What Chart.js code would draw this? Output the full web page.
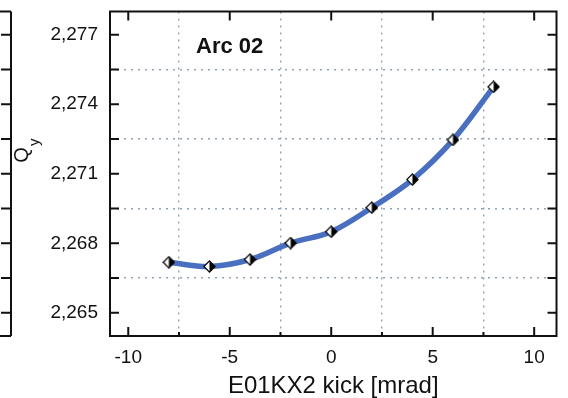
<!DOCTYPE html>
<html>
<head>
<meta charset="utf-8">
<script src="https://cdn.jsdelivr.net/npm/chart.js@4/dist/chart.umd.min.js"></script>
<style>
  html, body { margin: 0; padding: 0; background: #ffffff; }
  #wrap { width: 568px; height: 398px; position: relative; }
</style>
</head>
<body>
<div id="wrap"><canvas id="c" width="568" height="398"></canvas></div>
<script>
// ---- data ----
const kicks = [-8, -6, -4, -2, 0, 2, 4, 6, 8];
const qy = [2.26718, 2.26700, 2.26730, 2.26801, 2.26850, 2.26954, 2.27075, 2.27246, 2.27475];

const xTickValues = [-10, -5, 0, 5, 10];
const xGridValues = [-7.5, -2.5, 2.5, 7.5];
const yTickValues = [2.265, 2.268, 2.271, 2.274, 2.277];
const yGridValues = [2.2665, 2.2695, 2.2725, 2.2755];

const panelLabel = 'Arc 02';
const xTitle = 'E01KX2 kick [mrad]';
const yTitleMain = 'Q';
const yTitleSub = 'y';

// ---- marker: diamond, left half white, right half black ----
function makeMarker() {
  const s = 13, h = s / 2, r = 5.6;
  const c = document.createElement('canvas');
  c.width = s; c.height = s;
  const g = c.getContext('2d');
  const path = () => { g.beginPath(); g.moveTo(h, h - r); g.lineTo(h + r, h); g.lineTo(h, h + r); g.lineTo(h - r, h); g.closePath(); };
  path(); g.fillStyle = '#ffffff'; g.fill();
  g.beginPath(); g.moveTo(h, h - r); g.lineTo(h + r, h); g.lineTo(h, h + r); g.closePath();
  g.fillStyle = '#000000'; g.fill();
  path(); g.strokeStyle = '#000000'; g.lineWidth = 1.2; g.stroke();
  return c;
}

const gridColor = '#93a3b2';
const xGridSet = new Set(xGridValues);
const yGridSet = new Set(yGridValues);

const framePlugin = {
  id: 'frame',
  afterDraw(chart) {
    const {ctx, chartArea: a, scales: {x, y}} = chart;
    ctx.save();
    ctx.strokeStyle = '#111111';
    ctx.lineWidth = 2;
    ctx.strokeRect(a.left, a.top, a.right - a.left, a.bottom - a.top);
    ctx.beginPath();
    [...yTickValues, ...yGridValues].forEach(v => {
      const py = y.getPixelForValue(v);
      ctx.moveTo(a.left, py); ctx.lineTo(a.left + 9, py);
      ctx.moveTo(a.right, py); ctx.lineTo(a.right - 9, py);
    });
    xTickValues.forEach(v => {
      const px = x.getPixelForValue(v);
      ctx.moveTo(px, a.bottom); ctx.lineTo(px, a.bottom - 9);
      ctx.moveTo(px, a.top); ctx.lineTo(px, a.top + 9);
    });
    xGridValues.forEach(v => {
      const px = x.getPixelForValue(v);
      ctx.moveTo(px, a.bottom); ctx.lineTo(px, a.bottom - 4);
    });
    ctx.stroke();

    // neighbouring panel edge at the far left
    const ex = 11;
    ctx.beginPath();
    ctx.moveTo(ex, a.top); ctx.lineTo(ex, a.bottom);
    ctx.moveTo(0, a.top); ctx.lineTo(ex, a.top);
    ctx.moveTo(0, a.bottom); ctx.lineTo(ex, a.bottom);
    [...yTickValues, ...yGridValues].forEach(v => {
      const py = y.getPixelForValue(v);
      ctx.moveTo(ex, py); ctx.lineTo(ex - 10, py);
    });
    ctx.stroke();

    // panel label
    ctx.fillStyle = '#111111';
    ctx.font = 'bold 22px "Liberation Sans", Arial, sans-serif';
    ctx.textAlign = 'left';
    ctx.textBaseline = 'middle';
    ctx.fillText(panelLabel, a.left + 86, a.top + 35);

    // y title: Q with subscript y, rotated
    ctx.translate(21, 155);
    ctx.rotate(-Math.PI / 2);
    ctx.textBaseline = 'alphabetic';
    ctx.textAlign = 'center';
    ctx.font = '20px "Liberation Sans", Arial, sans-serif';
    ctx.fillText(yTitleMain, 0, 7);
    ctx.textAlign = 'left';
    ctx.font = '15px "Liberation Sans", Arial, sans-serif';
    ctx.fillText(yTitleSub, 9, 18);
    ctx.restore();
  }
};

new Chart(document.getElementById('c'), {
  type: 'line',
  data: {
    datasets: [{
      data: kicks.map((k, i) => ({x: k, y: qy[i]})),
      borderColor: '#4a6fc0',
      borderWidth: 5.5,
      tension: 0.35,
      pointStyle: makeMarker(),
      pointRadius: 6,
      fill: false
    }]
  },
  options: {
    responsive: false,
    animation: false,
    devicePixelRatio: 1,
    layout: { padding: { top: 10, right: 8.5, left: 0, bottom: 0 } },
    plugins: { legend: { display: false }, tooltip: { enabled: false } },
    scales: {
      x: {
        type: 'linear',
        min: -10.9,
        max: 11.1,
        afterBuildTicks: s => { s.ticks = [...xTickValues, ...xGridValues].sort((p, q) => p - q).map(v => ({value: v})); },
        afterFit: s => { s.height = 62; s.paddingLeft = 0; s.paddingRight = 0; },
        ticks: {
          autoSkip: false, maxRotation: 0, padding: 10,
          color: '#111111',
          font: { family: '"Liberation Sans", Arial, sans-serif', size: 19 },
          callback: v => xTickValues.includes(v) ? String(v) : ''
        },
        grid: {
          drawTicks: false,
          lineWidth: 1.4,
          color: c => (c.tick && xGridSet.has(c.tick.value)) ? gridColor : 'rgba(0,0,0,0)'
        },
        border: { display: false, dash: [2, 5] },
        title: {
          display: true, text: xTitle, color: '#111111',
          padding: { top: 0, bottom: 0 },
          font: { family: '"Liberation Sans", Arial, sans-serif', size: 24, lineHeight: 1 }
        }
      },
      y: {
        type: 'linear',
        min: 2.264,
        max: 2.278,
        afterBuildTicks: s => { s.ticks = [...yTickValues, ...yGridValues].sort((p, q) => p - q).map(v => ({value: v})); },
        afterFit: s => { s.width = 110; s.paddingTop = 0; s.paddingBottom = 0; },
        ticks: {
          autoSkip: false, padding: 12,
          color: '#111111',
          font: { family: '"Liberation Sans", Arial, sans-serif', size: 19 },
          callback: v => yTickValues.includes(v) ? v.toFixed(3).replace('.', ',') : ''
        },
        grid: {
          drawTicks: false,
          lineWidth: 1.4,
          color: c => (c.tick && yGridSet.has(c.tick.value)) ? gridColor : 'rgba(0,0,0,0)'
        },
        border: { display: false, dash: [2, 5] }
      }
    }
  },
  plugins: [framePlugin]
});
</script>
</body>
</html>
